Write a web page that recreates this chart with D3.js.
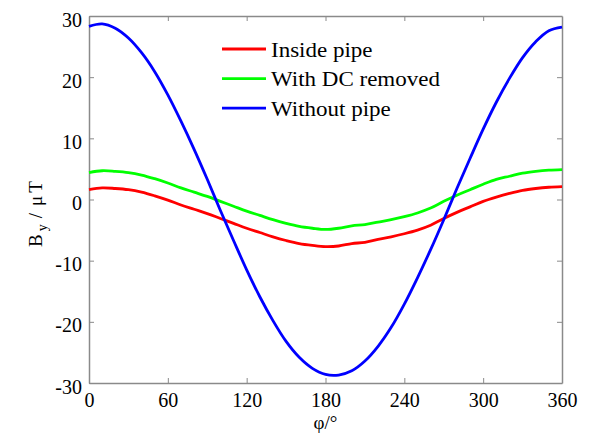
<!DOCTYPE html>
<html>
<head>
<meta charset="utf-8">
<script src="https://cdn.jsdelivr.net/npm/d3@7"></script>
<style>
  body { margin: 0; background: #fff; }
  svg text { font-family: "Liberation Serif", "Times New Roman", serif; fill: #000; }
</style>
</head>
<body>
<div id="chart"></div>
<script>
// angle φ in degrees, one value every 10°
const phi = [0,10,20,30,40,50,60,70,80,90,100,110,120,130,140,150,160,170,180,
             190,200,210,220,230,240,250,260,270,280,290,300,310,320,330,340,350,360];

const insidePipe = [1.6,1.9,1.8,1.6,1.2,0.6,-0.1,-0.9,-1.6,-2.3,-3.1,-3.9,-4.7,-5.4,-6.1,-6.7,-7.2,-7.5,-7.7,
                    -7.6,-7.2,-7.0,-6.5,-6.1,-5.6,-5.0,-4.2,-3.1,-2.1,-1.2,-0.3,0.4,1.0,1.5,1.8,2.0,2.1];
const dcRemoved = [4.4,4.7,4.6,4.4,4.0,3.4,2.7,1.9,1.2,0.5,-0.3,-1.1,-1.9,-2.6,-3.3,-3.9,-4.4,-4.7,-4.9,
                   -4.7,-4.3,-4.1,-3.7,-3.3,-2.8,-2.2,-1.4,-0.3,0.7,1.6,2.5,3.3,3.8,4.3,4.6,4.8,4.9];
const withoutPipe = [28.3,28.7,28.0,26.4,24.0,20.9,17.1,12.8,8.2,3.3,-1.8,-6.7,-11.5,-15.9,-19.8,-23.2,-25.8,-27.6,-28.6,
                     -28.7,-28.0,-26.4,-24.0,-20.9,-17.1,-12.8,-8.2,-3.3,1.8,6.7,11.5,15.9,19.8,23.2,25.8,27.6,28.2];

const seriesNames = ["Inside pipe", "With DC removed", "Without pipe"];
const seriesColors = ["#ff0000", "#00ff00", "#0000ff"];
const xTicks = [0, 60, 120, 180, 240, 300, 360];
const yTicks = [-30, -20, -10, 0, 10, 20, 30];

const W = 594, H = 439;
const margin = { top: 16, right: 32, bottom: 56, left: 89 },
      width = W - margin.left - margin.right,
      height = H - margin.top - margin.bottom;

const svg = d3.select("#chart").append("svg")
    .attr("width", W)
    .attr("height", H)
  .append("g")
    .attr("transform", `translate(${margin.left},${margin.top})`);

const x = d3.scaleLinear().domain([0, 360]).range([0, width]);
const y = d3.scaleLinear().domain([-30, 30]).range([height, 0]);

const axisColor = "#8a8a8a";
const fmt = d => String(d);   // plain hyphen minus like the original

// bottom / left axes with labels, top / right mirrored without labels
const xAxis = svg.append("g")
    .attr("transform", `translate(0,${height})`)
    .call(d3.axisBottom(x).tickValues(xTicks).tickFormat(fmt).tickSizeInner(-5).tickSizeOuter(0).tickPadding(10));
const yAxis = svg.append("g")
    .call(d3.axisLeft(y).tickValues(yTicks).tickFormat(fmt).tickSizeInner(-5).tickSizeOuter(0).tickPadding(7));
const xTop = svg.append("g")
    .call(d3.axisTop(x).tickValues(xTicks.slice(1, -1)).tickSizeInner(-5).tickSizeOuter(0).tickFormat(""));
const yRight = svg.append("g")
    .attr("transform", `translate(${width},0)`)
    .call(d3.axisRight(y).tickValues(yTicks.slice(1, -1)).tickSizeInner(-5).tickSizeOuter(0).tickFormat(""));

[xAxis, yAxis, xTop, yRight].forEach(a => {
  a.attr("font-family", "Liberation Serif").attr("font-size", 20);
  a.select(".domain").attr("stroke", axisColor).attr("stroke-width", 1.5);
  a.selectAll(".tick line").attr("stroke", axisColor).attr("stroke-width", 1);
  a.selectAll("text")
    .attr("fill", "#000")
    .style("font-family", "Liberation Serif, serif");
});
yAxis.selectAll(".tick text").attr("dy", "0.5em");

// lines
const rows = phi.map((p, i) => ({ p, v: [insidePipe[i], dcRemoved[i], withoutPipe[i]] }));
const line = k => d3.line()
    .x(d => x(d.p))
    .y(d => y(d.v[k]))
    .curve(d3.curveCatmullRom)(rows);

seriesNames.forEach((name, k) => {
  svg.append("path")
    .attr("d", line(k))
    .attr("fill", "none")
    .attr("stroke", seriesColors[k])
    .attr("stroke-width", 2.8)
    .attr("stroke-linejoin", "round");
});

// legend
const legend = svg.selectAll(".legend")
  .data(seriesNames)
  .join("g")
    .attr("transform", (d, i) => `translate(${222 - margin.left},${49 - margin.top + i * 29.6})`);

legend.append("line")
  .attr("x1", 0).attr("x2", 44)
  .attr("stroke", (d, i) => seriesColors[i])
  .attr("stroke-width", 2.8);

legend.append("text")
  .attr("transform", "translate(49,7.5) scale(1.15,1)")
  .style("font-size", "20px")
  .text(d => d);

// axis titles
svg.append("text")
  .attr("x", width / 2)
  .attr("y", height + 46)
  .attr("text-anchor", "middle")
  .style("font-size", "19px")
  .text("φ/°");

const yLab = svg.append("text")
  .attr("transform", `translate(${42 - margin.left},${247 - margin.top}) rotate(-90)`)
  .style("font-size", "19px");
yLab.append("tspan").text("B");
yLab.append("tspan").attr("dx", 3).attr("dy", 5).style("font-size", "14px").text("y");
yLab.append("tspan").attr("dx", 6).attr("dy", -5).text("/");
yLab.append("tspan").attr("dx", 7).text("μ");
yLab.append("tspan").attr("dx", 3).text("T");
</script>
</body>
</html>
